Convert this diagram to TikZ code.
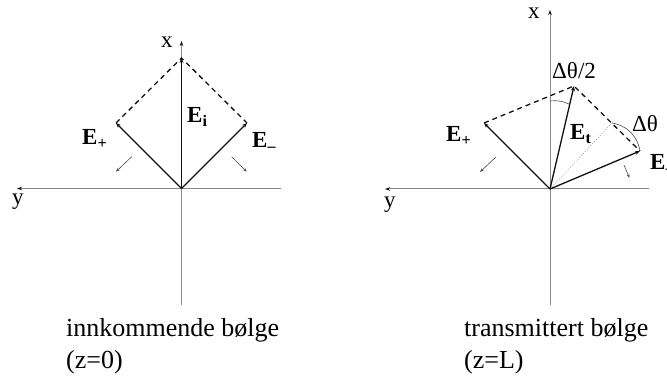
\documentclass[tikz,border=0pt]{standalone}
\usepackage{fontspec}
\setmainfont{Liberation Serif}
\usetikzlibrary{arrows.meta,positioning,calc}
\definecolor{axisgray}{HTML}{8A8A8A}
\definecolor{ink}{HTML}{111111}
\tikzset{axis/.style={draw=axisgray,line width=1pt,-{Stealth[length=5pt,width=3.5pt,color=ink]}},vec/.style={draw=ink,line width=1.3pt,-{Stealth[length=5pt,width=4pt]}},comp/.style={draw=ink,line width=1.3pt,dash pattern=on 5pt off 4pt},turn/.style={draw=ink!75,line width=0.6pt,-{Stealth[length=4pt,width=3pt]}},lab/.style={font=\fontsize{23}{26}\selectfont,inner sep=0pt,anchor=base west},capt/.style={font=\fontsize{26}{32}\selectfont,inner sep=0pt,anchor=base west}}

\begin{document}
\begin{tikzpicture}[x=1pt,y=1pt]
\useasboundingbox (0,0) rectangle (667,378);
% innkommende
\coordinate (o1) at (181.5,189.5);
\coordinate (xb1) at (181.5,73);\coordinate (xt1) at (181.5,337);
\coordinate (yr1) at (281,189.5);\coordinate (yl1) at (17,189.5);
\coordinate (ep1) at (116,255);\coordinate (em1) at (247,255);\coordinate (ei) at (181.5,320);
\coordinate (sp1a) at (131.7,221.3);\coordinate (sp1b) at (116,206.3);
\coordinate (sm1a) at (231.7,221.3);\coordinate (sm1b) at (246.7,206.3);
\draw[axis](xb1)--(xt1);\draw[axis](yr1)--(yl1);
\draw[comp](ep1)--(ei)--(em1);
\draw[vec](o1)--(ei);\draw[vec](o1)--(ep1);\draw[vec](o1)--(em1);
\draw[turn](sp1a)--(sp1b);\draw[turn](sm1a)--(sm1b);
\node[lab] (lx1) at (161,330) {x};
\node[lab] (ly1) at (12,173) {y};
\node[lab] (lep1) at (82,233) {\textbf{E\textsubscript{+}}};
\node[lab] (lei) at (187,255) {\textbf{E\textsubscript{i}}};
\node[lab] (lem1) at (252,230) {\textbf{E\textsubscript{\textendash}}};
\node[capt] (c1) at (66,42) {innkommende bølge};
\node[capt] (z1) at (66,10) {(z=0)};
% transmittert
\coordinate (o2) at (550,189);
\coordinate (xb2) at (550,73);\coordinate (xt2) at (550,368);
\coordinate (yr2) at (649,189);\coordinate (yl2) at (385,189);
\coordinate (ep2) at (484,255);\coordinate (em2) at (640,227);\coordinate (et) at (574,292);
\coordinate (ed) at (612,255);
\coordinate (ha) at (550,277);\coordinate (hb) at (569,274);
\coordinate (sp2a) at (496,221);\coordinate (sp2b) at (480,206);
\coordinate (sm2a) at (624,213);\coordinate (sm2b) at (629.5,200);
\draw[axis](xb2)--(xt2);\draw[axis](yr2)--(yl2);
\draw[comp](ep2)--(et)--(em2);
\draw[draw=axisgray,line width=0.7pt,dotted](o2)--(ed);
\draw[draw=ink!75,line width=0.6pt](ed) to[bend left=35] (em2);
\draw[draw=ink!75,line width=0.6pt](ha) to[bend left=15] (hb);
\draw[vec](o2)--(et);\draw[vec](o2)--(ep2);\draw[vec](o2)--(em2);
\draw[turn](sp2a)--(sp2b);\draw[turn](sm2a)--(sm2b);
\node[lab] (lx2) at (528,359) {x};
\node[lab] (ly2) at (384,170) {y};
\node[lab] (lep2) at (446,236) {\textbf{E\textsubscript{+}}};
\node[lab] (let) at (570,238) {\textbf{E\textsubscript{t}}};
\node[lab] (lem2) at (650,208) {\textbf{E\textsubscript{\textendash}}};
\node[lab] (lhalf) at (552,299) {Δθ/2};
\node[lab] (ldt) at (632,246) {Δθ};
\node[capt] (c2) at (464,42) {transmittert bølge};
\node[capt] (z2) at (464,10) {(z=L)};
\end{tikzpicture}
\end{document}
